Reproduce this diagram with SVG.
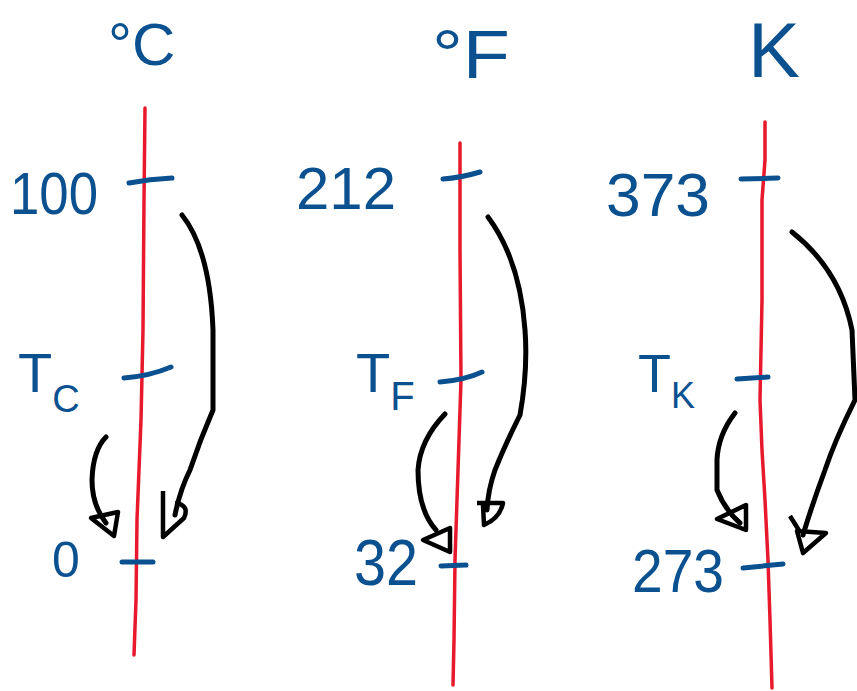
<svg xmlns="http://www.w3.org/2000/svg" width="857" height="691" viewBox="0 0 857 691">
<defs>
<style>
.lbl{font-family:"Liberation Sans",Arial,sans-serif;fill:#0b5190;}
.axis{fill:none;stroke:#e8192c;stroke-width:3.5;stroke-linecap:round;stroke-linejoin:round;}
.tick{fill:none;stroke:#0b5190;stroke-width:5;stroke-linecap:round;}
.arr{fill:none;stroke:#000;stroke-width:5;stroke-linecap:round;stroke-linejoin:round;}
.head{fill:none;stroke:#000;stroke-width:4.5;stroke-linejoin:round;}
</style>
</defs>
<rect width="857" height="691" fill="#fff"/>
<g id="celsius">
<path class="axis" d="M145,108 L144,200 L143,330 L141,420 L137,520 L136,600 L134,655"/>
<path class="tick" d="M129,183 Q150,179 172,178"/>
<path class="tick" d="M124,378 Q150,376 171,367"/>
<path class="tick" d="M122,562 L153,562"/>
<text class="lbl" x="108" y="65" font-size="60">°C</text>
<text class="lbl" x="10" y="214" font-size="60" textLength="88" lengthAdjust="spacingAndGlyphs">100</text>
<text class="lbl" x="18" y="392" font-size="56">T<tspan font-size="38" dy="20">C</tspan></text>
<text class="lbl" x="52" y="577" font-size="50">0</text>
</g>
<g id="fahrenheit">
<path class="axis" d="M460,143 L460,250 L461,380 L458,470 L455,560 L454,640 L453,685"/>
<path class="tick" d="M443,179 Q460,178 480,172"/>
<path class="tick" d="M440,382 Q465,380 482,372"/>
<path class="tick" d="M441,566 L466,565"/>
<text class="lbl" x="432" y="78" font-size="68" textLength="78" lengthAdjust="spacingAndGlyphs">°F</text>
<text class="lbl" x="296" y="209" font-size="60" textLength="100" lengthAdjust="spacingAndGlyphs">212</text>
<text class="lbl" x="356" y="392" font-size="56">T<tspan font-size="40" dy="18">F</tspan></text>
<text class="lbl" x="354" y="585" font-size="64" textLength="64" lengthAdjust="spacingAndGlyphs">32</text>
</g>
<g id="kelvin">
<path class="axis" d="M765,122 L765,160 L762,200 L762,300 L760,400 L762,450 L765,500 L768,560 L770,620 L772,688"/>
<path class="tick" d="M741,179 L778,178"/>
<path class="tick" d="M737,379 L768,377"/>
<path class="tick" d="M743,568 L783,564"/>
<text class="lbl" x="748" y="77" font-size="78" textLength="52" lengthAdjust="spacingAndGlyphs">K</text>
<text class="lbl" x="606" y="216" font-size="62" textLength="104" lengthAdjust="spacingAndGlyphs">373</text>
<text class="lbl" x="638" y="392" font-size="54">T<tspan font-size="36" dy="16">K</tspan></text>
<text class="lbl" x="632" y="592" font-size="62" textLength="92" lengthAdjust="spacingAndGlyphs">273</text>
</g>
<g id="connectors">
<path class="arr" d="M182,215 Q210,250 213,330 L213,410 Q200,440 190,470 Q180,490 175,515"/>
<path class="head" d="M163,491 L163,537 L184,518 Q190,505 175,503"/>
<path class="arr" d="M106,437 Q93,450 92,480 Q92,505 106,523"/>
<path class="head" d="M91,518 L118,512 L114,536 Z"/>
<path class="arr" d="M488,217 Q520,260 525,330 Q528,370 520,415 Q505,445 495,470 Q488,490 487,510"/>
<path class="head" d="M477,503 L503,503 Q500,518 484,525 L483,505"/>
<path class="arr" d="M445,414 Q420,440 418,470 Q418,510 436,530"/>
<path class="head" d="M423,540 L450,528 L450,552 Z"/>
<path class="arr" d="M792,232 Q840,270 852,330 L855,400 Q835,440 825,470 Q812,505 803,535"/>
<path class="head" d="M790,516 L800,532 M797,531 L826,533 L803,553 Z"/>
<path class="arr" d="M735,413 Q718,435 717,460 L717,490 Q725,510 740,523"/>
<path class="head" d="M717,519 L746,505 L746,530 Z"/>
</g>
</svg>
